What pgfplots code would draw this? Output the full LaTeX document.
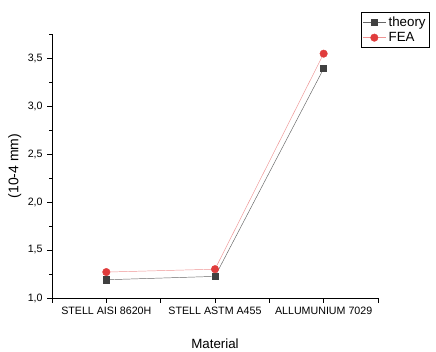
\documentclass[border=0pt]{standalone}
\usepackage{pgfplots}
\pgfplotsset{compat=1.18}
\usepackage{fontspec}
\setmainfont{Liberation Sans}
\definecolor{thgray}{HTML}{404040}
\definecolor{fered}{HTML}{E03C3C}
\begin{document}
\begin{tikzpicture}[x=0.75pt,y=0.75pt]
\begin{axis}[
  scale only axis,
  width=244.5pt, height=198pt,
  xmin=0.5, xmax=3.5, ymin=1, ymax=3.75,
  axis lines=left,
  axis line style={-, black, line width=0.6pt},
  xtick={1,2,3},
  xticklabels={STELL AISI 8620H, STELL ASTM A455, ALLUMUNIUM 7029},
  extra x ticks={0.5,1.5,2.5,3.5},
  extra x tick labels={},
  ytick={1,1.5,2,2.5,3,3.5},
  minor ytick={1.25,1.75,2.25,2.75,3.25,3.75},
  tick align=outside,
  major tick length=3.5pt,
  minor tick length=2pt,
  tick style={black, line width=0.6pt},
  /pgf/number format/.cd, use comma, fixed, fixed zerofill, precision=1, assume math mode=true,
  /pgfplots/.cd,
  ticklabel style={font=\fontsize{8}{9}\selectfont},
  xlabel={Material},
  ylabel={(10-4 mm)},
  xlabel style={font=\fontsize{10}{12}\selectfont, yshift=-4pt},
  ylabel style={font=\fontsize{10.5}{12}\selectfont, yshift=-2pt},
  legend style={at={(0.948,1.083)}, anchor=north west, draw=black, line width=0.5pt,
    font=\fontsize{10}{11}\selectfont, inner sep=1pt, row sep=-1pt},
  legend cell align=left,
  clip=false,
]
\addplot[color=thgray!80, line width=0.35pt, mark=square*, mark size=2.3pt, mark options={fill=thgray, draw=thgray}]
  coordinates {(1,1.19) (2,1.225) (3,3.39)};
\addlegendentry{theory}
\addplot[color=fered!55, line width=0.35pt, mark=*, mark size=2.8pt, mark options={fill=fered, draw=fered}]
  coordinates {(1,1.27) (2,1.30) (3,3.545)};
\addlegendentry{FEA}
\end{axis}
\pgfresetboundingbox
\path[use as bounding box] (-52,-54) rectangle (384,298);
\end{tikzpicture}
\end{document}
